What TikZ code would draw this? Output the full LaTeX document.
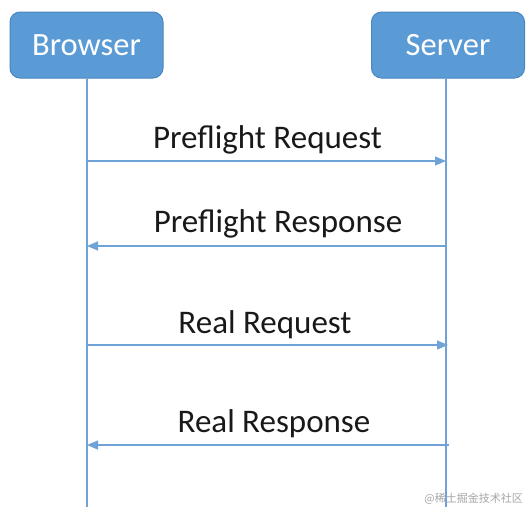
\documentclass[tikz,border=0pt]{standalone}
\usepackage{fontspec}
\setmainfont{Carlito}
\newfontfamily\cjk{Noto Sans CJK SC}
\usetikzlibrary{arrows.meta}
\definecolor{boxfill}{HTML}{5B9BD5}
\definecolor{boxline}{HTML}{4A86C0}
\definecolor{arrowcol}{HTML}{6FA3D8}
\begin{document}
\begin{tikzpicture}[x=1pt,y=-1pt,
  actor/.style={draw=boxline,line width=1pt,fill=boxfill,rounded corners=10pt,
    minimum width=153pt,minimum height=66pt,text=white,
    font=\fontsize{32.5}{36}\selectfont,inner sep=0pt},
  lifeline/.style={draw=arrowcol,line width=1.2pt},
  msg/.style={draw=arrowcol,line width=1.2pt,-{Triangle[length=11pt,width=9pt]}},
  msglabel/.style={anchor=base,font=\fontsize{33}{38}\selectfont,text=black!90,inner sep=0pt}]
\useasboundingbox (0,0) rectangle (528,507);
\fill[white] (0,0) rectangle (528,507);
\node[actor] (browser) at (86.5,45) {Browser};
\node[actor] (server) at (448,45) {Server};
\coordinate (bend) at (87,507);
\coordinate (send) at (446,507);
\draw[lifeline] (browser.south -| bend) -- (bend);
\draw[lifeline] (server.south -| send) -- (send);
% message points
\coordinate (b1) at (87,161);
\coordinate (s1) at (446,161);
\coordinate (b2) at (87,246);
\coordinate (s2) at (446,246);
\coordinate (b3) at (87,345);
\coordinate (s3) at (448,345);
\coordinate (b4) at (87,445);
\coordinate (s4) at (449,445);
\draw[msg] (b1) -- (s1);
\draw[msg] (s2) -- (b2);
\draw[msg] (b3) -- (s3);
\draw[msg] (s4) -- (b4);
\node[msglabel] (l1) at (267.5,148) {Preflight Request};
\node[msglabel] (l2) at (278,232) {Preflight Response};
\node[msglabel] (l3) at (265,333) {Real Request};
\node[msglabel] (l4) at (274,432) {Real Response};
\node[anchor=base east,inner sep=0pt,text=gray!70,font=\cjk\fontsize{11}{13}\selectfont] (wm) at (523,502) {@稀土掘金技术社区};
\end{tikzpicture}
\end{document}
